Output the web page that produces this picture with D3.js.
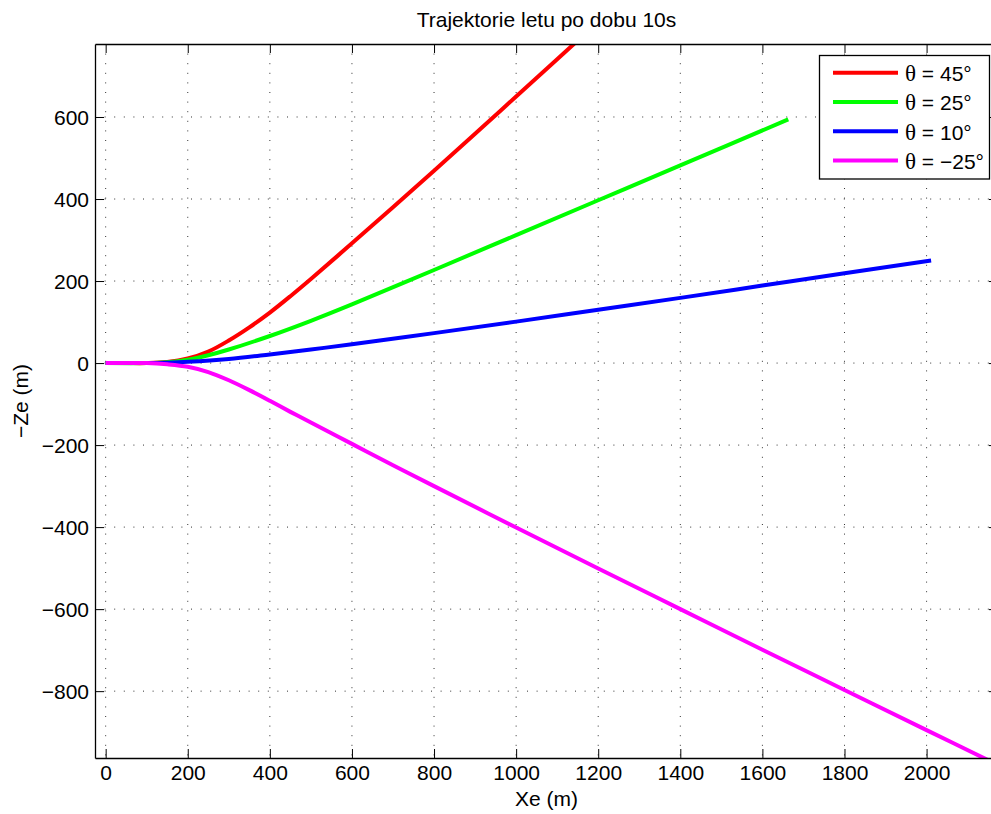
<!DOCTYPE html>
<html><head><meta charset="utf-8">
<script src="https://cdn.jsdelivr.net/npm/d3@7"></script>
<style>body{margin:0;background:#fff}svg{display:block}</style>
</head><body>
<svg id="c" width="991" height="814"></svg>
<script>
const xTicks = [0,200,400,600,800,1000,1200,1400,1600,1800,2000];
const yTicks = [-800,-600,-400,-200,0,200,400,600];
const labels = ["θ = 45°","θ = 25°","θ = 10°","θ = −25°"];
const colors = ["#ff0000","#00ff00","#0000ff","#ff00ff"];
const redX = [0,50,100,150,200,250,300,350,400,450,500,600,700,800,900,1000,1100,1200];
const redY = [0,0,0,2.5,11,28,55,87,123,163,205,292,380,469,559,650,741,832];
const greenX = [0,100,150,200,250,300,400,500,600,800,1000,1200,1400,1663];
const greenY = [0,0,2,8,19,33,66,103,143,227,312,397,482,594];
const blueX = [0,100,150,200,300,400,500,600,800,1000,1200,1400,1600,1800,2011];
const blueY = [0,0,1,3,10,21,33,46,73,101,130,159,189,219,250];
const magX = [0,100,150,200,250,300,350,400,450,500,600,700,800,1000,1200,1400,1600,1800,2000,2170];
const magY = [0,0,-3,-9,-22,-42,-66,-92,-119,-145,-197,-249,-300,-401,-501,-600,-699,-797,-895,-978];
const xLabel = "Xe (m)", yLabel = "−Ze (m)", title = "Trajektorie letu po dobu 10s";

const series = [[redX,redY],[greenX,greenY],[blueX,blueY],[magX,magY]];
const L=95, R=998, T=44, B=758;
const x = d3.scaleLinear().domain([-26,2174]).range([L,R]);
const y = d3.scaleLinear().domain([-963,778]).range([B,T]);
const svg = d3.select("#c");
const font = "'Liberation Sans', Arial, Helvetica, sans-serif";
const fs = 21;

svg.append("defs").append("clipPath").attr("id","clip")
  .append("rect").attr("x",L).attr("y",T).attr("width",R-L).attr("height",B-T);

// grid
const g = svg.append("g");
g.selectAll(".gx").data(xTicks).enter().append("line")
  .attr("x1",d=>x(d)).attr("x2",d=>x(d)).attr("y1",T).attr("y2",B)
  .attr("stroke","#333").attr("stroke-width",1).attr("stroke-dasharray","1,8.6");
g.selectAll(".gy").data(yTicks).enter().append("line")
  .attr("y1",d=>y(d)).attr("y2",d=>y(d)).attr("x1",L).attr("x2",R)
  .attr("stroke","#333").attr("stroke-width",1).attr("stroke-dasharray","1,8.6");

// series
const line = d3.line().x(d=>x(d[0])).y(d=>y(d[1])).curve(d3.curveCatmullRom.alpha(0.5));
const lg = svg.append("g").attr("clip-path","url(#clip)");
series.forEach((s,i)=>{
  const pts = s[0].map((v,j)=>[v,s[1][j]]);
  lg.append("path").attr("d",line(pts)).attr("fill","none")
    .attr("stroke",colors[i]).attr("stroke-width",4).attr("stroke-linejoin","round");
});

// axes
const fmt = d=>d<0?"−"+Math.abs(d):""+d;
const ax = svg.append("g").attr("transform",`translate(0,${B})`)
  .call(d3.axisBottom(x).tickValues(xTicks).tickSizeInner(-9).tickSizeOuter(0).tickPadding(16).tickFormat(fmt));
const axT = svg.append("g").attr("transform",`translate(0,${T})`)
  .call(d3.axisTop(x).tickValues(xTicks).tickSizeInner(-9).tickSizeOuter(0).tickFormat(""));
const ay = svg.append("g").attr("transform",`translate(${L},0)`)
  .call(d3.axisLeft(y).tickValues(yTicks).tickSizeInner(-9).tickSizeOuter(0).tickPadding(6).tickFormat(fmt));
const ayR = svg.append("g").attr("transform",`translate(${R},0)`)
  .call(d3.axisRight(y).tickValues(yTicks).tickSizeInner(-9).tickSizeOuter(0).tickFormat(""));
[ax,axT,ay,ayR].forEach(a=>{
  a.selectAll(".domain").attr("stroke","#000").attr("stroke-width",1.3);
  a.selectAll(".tick line").attr("stroke","#000").attr("stroke-width",1);
  a.selectAll("text").attr("font-family",font).attr("font-size",fs).attr("fill","#000");
});
ax.selectAll("text").attr("dy","0.3em");
ay.selectAll("text").attr("dy","0.36em");

// labels
svg.append("text").attr("x",(L+R)/2).attr("y",27).attr("text-anchor","middle")
  .attr("font-family",font).attr("font-size",fs).text(title);
svg.append("text").attr("x",(L+R)/2).attr("y",806).attr("text-anchor","middle")
  .attr("font-family",font).attr("font-size",fs).text(xLabel);
svg.append("text").attr("transform",`translate(28,${(T+B)/2}) rotate(-90)`).attr("text-anchor","middle")
  .attr("font-family",font).attr("font-size",fs).text(yLabel);

// legend
const leg = svg.append("g");
leg.append("rect").attr("x",819.5).attr("y",55.5).attr("width",170).attr("height",123.5)
  .attr("fill","#fff").attr("stroke","#000").attr("stroke-width",1.3);
labels.forEach((t,i)=>{
  const cy = 72.7 + i*29.3;
  leg.append("line").attr("x1",833).attr("x2",898).attr("y1",cy).attr("y2",cy)
    .attr("stroke",colors[i]).attr("stroke-width",4);
  const tx = leg.append("text").attr("x",905).attr("y",cy+8.3)
    .attr("font-family",font).attr("font-size",fs);
  tx.append("tspan").attr("font-family","'Liberation Serif', 'Times New Roman', serif").attr("font-size",fs+2).text(t[0]);
  tx.append("tspan").text(t.slice(1));
});
</script>
</body></html>
